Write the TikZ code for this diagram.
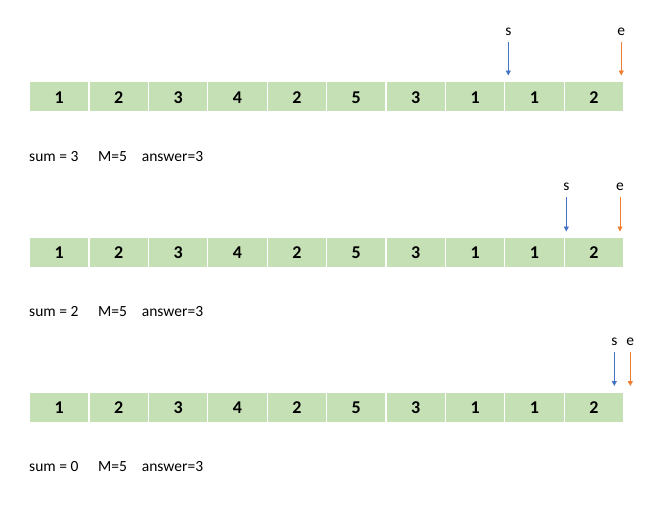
\documentclass[tikz,border=0pt]{standalone}
\usepackage{fontspec}
\setmainfont{Carlito}[BoldFont={Carlito Bold}]
\usetikzlibrary{arrows.meta}
\definecolor{cellgreen}{HTML}{C5E0B4}
\definecolor{sblue}{HTML}{4472C4}
\definecolor{eorange}{HTML}{ED7D31}
\begin{document}
\begin{tikzpicture}[x=1pt,y=-1pt,
  cell/.style={draw=white,line width=1.2pt,fill=cellgreen,minimum width=59.4pt,minimum height=30pt,inner sep=0pt,text height=13pt,text depth=0pt,anchor=north west,font=\fontsize{18}{21}\selectfont\bfseries},
  ptr/.style={font=\fontsize{15.5}{18}\selectfont,inner sep=0pt,anchor=base},
  info/.style={font=\fontsize{15.5}{18}\selectfont,inner sep=0pt,anchor=base west},
  sarr/.style={draw=sblue,line width=0.9pt,-{Triangle[length=5pt,width=5pt]}},
  earr/.style={draw=eorange,line width=0.9pt,-{Triangle[length=5pt,width=5pt]}}]
\useasboundingbox (0,0) rectangle (650,514);
\fill[white] (0,0) rectangle (650,514);
% row 1
\foreach \v [count=\i] in {1,2,3,4,2,5,3,1,1,2}{
  \node[cell] (a\i) at ({29+(\i-1)*59.4},81) {\v};
}
\node[ptr] (s1) at (508.3,35) {s};
\node[ptr] (e1) at (621.3,35) {e};
\coordinate (s1t) at (508.3,75.5);
\coordinate (e1t) at (621.3,75.5);
\draw[sarr] (508.3,42) -- (s1t);
\draw[earr] (621.3,42) -- (e1t);
\node[info] (sum1) at (29,161) {sum = 3};
\node[info] (m1) at (98,161) {M=5};
\node[info] (ans1) at (141.7,161) {answer=3};
% row 2
\foreach \v [count=\i] in {1,2,3,4,2,5,3,1,1,2}{
  \node[cell] (b\i) at ({29+(\i-1)*59.4},236.5) {\v};
}
\node[ptr] (s2) at (566.3,190) {s};
\node[ptr] (e2) at (620,190) {e};
\coordinate (s2t) at (566.3,231.5);
\coordinate (e2t) at (620,231.5);
\draw[sarr] (566.3,197) -- (s2t);
\draw[earr] (620,197) -- (e2t);
\node[info] (sum2) at (29,316) {sum = 2};
\node[info] (m2) at (98,316) {M=5};
\node[info] (ans2) at (141.7,316) {answer=3};
% row 3
\foreach \v [count=\i] in {1,2,3,4,2,5,3,1,1,2}{
  \node[cell] (c\i) at ({29+(\i-1)*59.4},391.5) {\v};
}
\node[ptr] (s3) at (614.3,345) {s};
\node[ptr] (e3) at (630.3,345) {e};
\coordinate (s3t) at (614.3,386);
\coordinate (e3t) at (630.3,386);
\draw[sarr] (614.3,352) -- (s3t);
\draw[earr] (630.3,352) -- (e3t);
\node[info] (sum3) at (29,471) {sum = 0};
\node[info] (m3) at (98,471) {M=5};
\node[info] (ans3) at (141.7,471) {answer=3};
\end{tikzpicture}
\end{document}
